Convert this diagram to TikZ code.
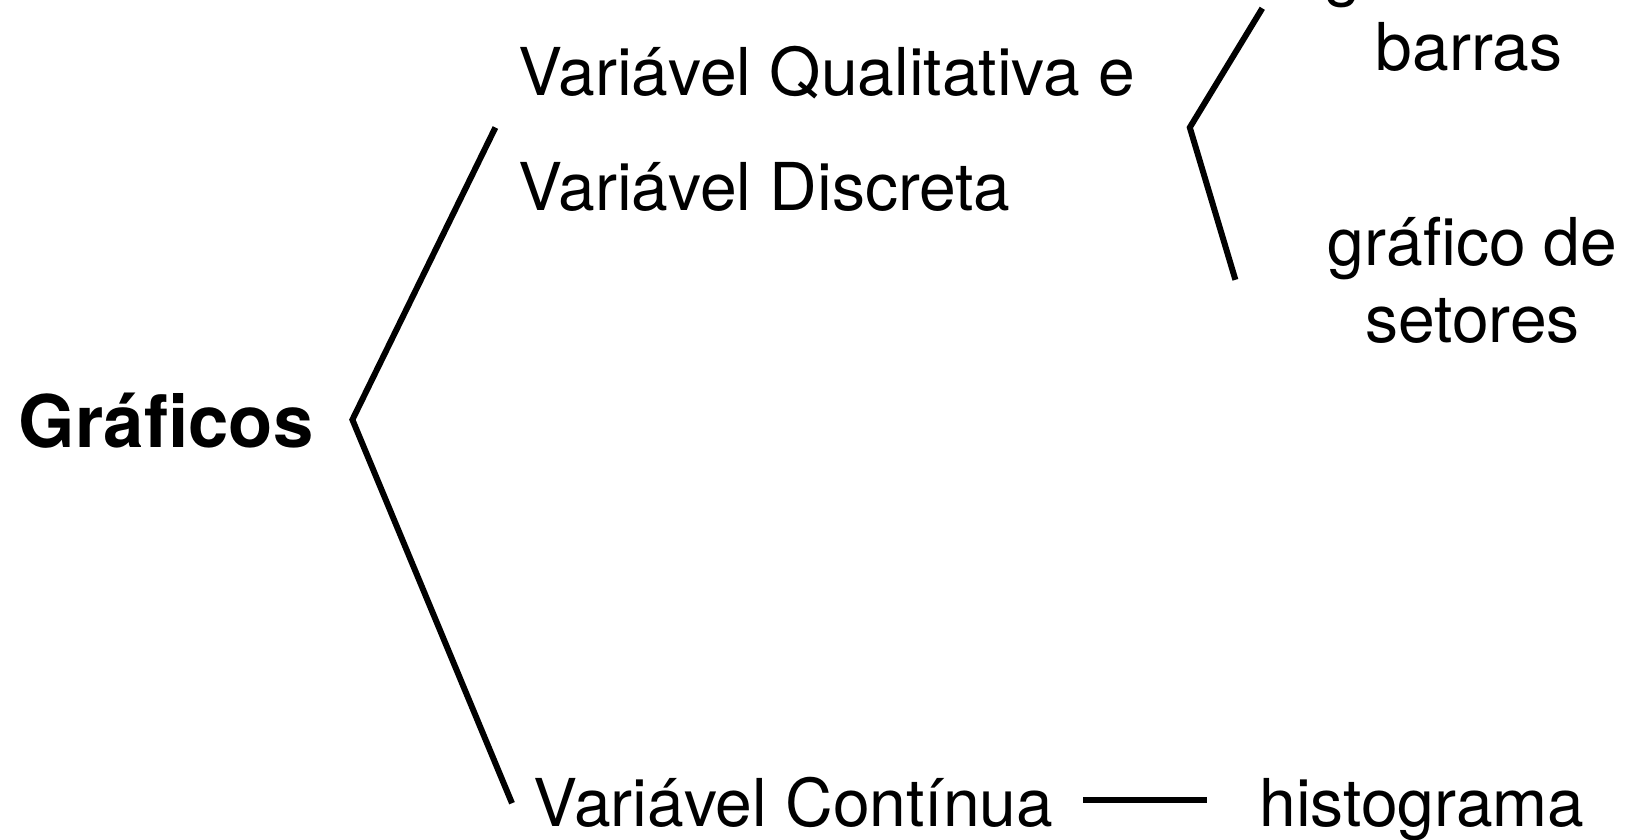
\documentclass[tikz,border=0pt]{standalone}
\usepackage{fontspec}
\setmainfont{TeX Gyre Heros}
\usepackage{tikz}
\usetikzlibrary{positioning}

\begin{document}
\begin{tikzpicture}[x=1pt,y=-1pt,
  txt/.style={inner sep=0pt,font=\fontsize{66}{70.5}\selectfont,align=center},
  brk/.style={line width=6pt}]
\useasboundingbox (0,0) rectangle (1625,839);
% textos
\node[inner sep=0pt,font=\fontsize{72.5}{80}\selectfont\bfseries,anchor=base west] (graf) at (18.7,447.7) {Gráficos};
\node[txt,anchor=base west] (qual) at (518.2,95.3) {Variável Qualitativa e};
\node[txt,anchor=base west] (disc) at (518.2,210.4) {Variável Discreta};
\node[txt,anchor=base west] (cont) at (533.7,826) {Variável Contínua};
\node[txt,anchor=base west] (hist) at (1259.2,826) {histograma};
\node[txt,anchor=base] (barras) at (1469,70.5) {gráfico de\\[6.5pt]barras};
\node[txt,anchor=base] (setores) at (1472.7,342) {gráfico de\\[6.5pt]setores};
% chaves
\coordinate (v1) at (352.4,419.7);
\coordinate (v1a) at (495.4,127.5);
\coordinate (v1b) at (512,803.2);
\coordinate (v2) at (1189.8,127.5);
\coordinate (v2a) at (1262.3,8.3);
\coordinate (v2b) at (1235.4,279.8);
\draw[brk] (v1a) -- (v1) -- (v1b);
\draw[brk] (v2a) -- (v2) -- (v2b);
\draw[brk,shorten <=30pt,shorten >=52pt] ([yshift=26pt]cont.base east) -- ([yshift=26pt]hist.base west);
\end{tikzpicture}
\end{document}
